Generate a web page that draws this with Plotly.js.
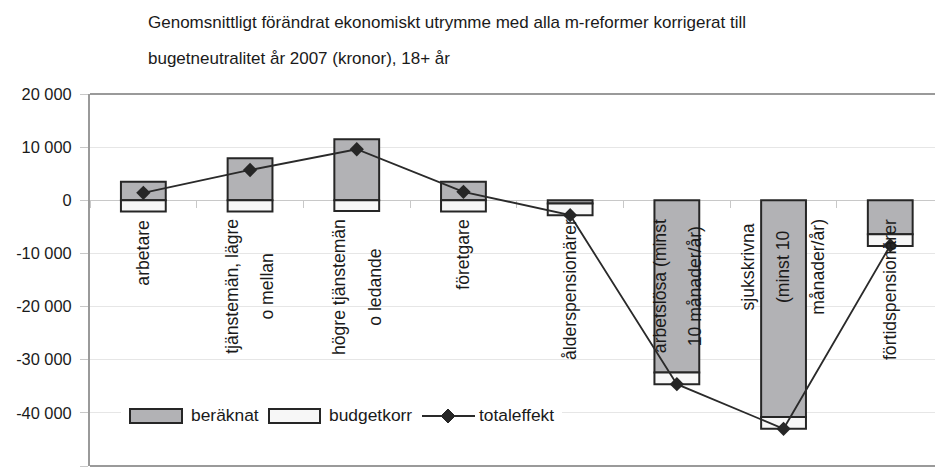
<!DOCTYPE html>
<html>
<head>
<meta charset="utf-8">
<script src="https://cdn.plot.ly/plotly-3.0.1.min.js"></script>
<style>html,body{margin:0;padding:0;background:#fff;}#chart{width:935px;height:470px;}</style>
</head>
<body>
<div id="chart"></div>
<script>
// ---- data ----
var categories = ["arbetare", "tjänstemän, lägre o mellan", "högre tjänstemän o ledande", "företgare", "ålderspensionärer", "arbetslösa (minst 10 månader/år)", "sjukskrivna (minst 10 månader/år)", "förtidspensionärer"];
var categoryLabels = ["arbetare", "tjänstemän, lägre<br>o mellan", "högre tjänstemän<br>o ledande", "företgare", "ålderspensionärer", "arbetslösa (minst<br>10 månader/år)", "sjukskrivna<br>(minst 10<br>månader/år)", "förtidspensionärer"];
var beraknat = [3500, 7900, 11500, 3500, -600, -32400, -40800, -6400];
var budgetkorr = [-2100, -2100, -2000, -2100, -2200, -2200, -2200, -2200];
var totaleffekt = [1400, 5700, 9600, 1600, -2800, -34600, -43000, -8500];
var yTickValues = [-50000, -40000, -30000, -20000, -10000, 0, 10000, 20000];
var yTickLabels = ["-50 000", "-40 000", "-30 000", "-20 000", "-10 000", "0", "10 000", "20 000"];
var seriesNames = ["beräknat", "budgetkorr", "totaleffekt"];
var titleLines = ["Genomsnittligt förändrat ekonomiskt utrymme med alla m-reformer korrigerat till", "bugetneutralitet år 2007 (kronor), 18+ år"];

// ---- style ----
var FONT = '"Liberation Sans", Arial, sans-serif';
var W = 935, H = 470, L = 90, R = 935, T = 94, B = 466;
var grayFill = '#b2b2b5', whiteFill = '#f7f7f7', edge = '#262626';
var yMin = -50000, yMax = 20000;
var zeroFrac = (0 - yMin) / (yMax - yMin);
function px(x) { return (x - L) / (R - L); }
function py(y) { return (B - y) / (B - T); }

var traces = [
  {type: 'bar', name: seriesNames[0], x: categories, y: beraknat, width: 0.42,
   marker: {color: grayFill, line: {color: edge, width: 2}}, showlegend: false, hoverinfo: 'x+y'},
  {type: 'bar', name: seriesNames[1], x: categories, y: budgetkorr, width: 0.42,
   marker: {color: whiteFill, line: {color: edge, width: 2}}, showlegend: false, hoverinfo: 'x+y'},
  {type: 'scatter', mode: 'lines+markers', name: seriesNames[2], x: categories, y: totaleffekt,
   line: {color: '#2a2a2a', width: 1.8}, marker: {symbol: 'diamond', size: 11, color: '#262626'},
   showlegend: false, hoverinfo: 'x+y'}
];

var annotations = categoryLabels.map(function (lab, i) {
  var inner = lab.split('<br>').map(function (s) { return '<span style="font-size:17.6px">' + s + '</span>'; }).join('<br>');
  return {x: categories[i], y: 0, xref: 'x', yref: 'y', text: inner, showarrow: false,
    textangle: -90, xanchor: 'center', yanchor: 'top', yshift: -17, align: 'center',
    font: {family: FONT, size: 27, color: '#1a1a1a'}};
});

// custom legend
var legY = 416, boxH = 14;
var shapes = [
  {type: 'line', xref: 'paper', yref: 'paper', x0: 0, x1: 1, y0: 1, y1: 1, line: {color: '#9a9a9a', width: 2}},
  {type: 'line', xref: 'paper', yref: 'paper', x0: 0, x1: 1, y0: 0, y1: 0, line: {color: '#9a9a9a', width: 2}},
  {type: 'rect', xref: 'paper', yref: 'paper', x0: px(121), x1: px(562), y0: py(405), y1: py(427), fillcolor: '#ffffff', line: {width: 0}, layer: 'above'},
  {type: 'rect', xref: 'paper', yref: 'paper', x0: px(130), x1: px(182), y0: py(legY - boxH / 2), y1: py(legY + boxH / 2), fillcolor: grayFill, line: {color: edge, width: 2}, layer: 'above'},
  {type: 'rect', xref: 'paper', yref: 'paper', x0: px(269), x1: px(320), y0: py(legY - boxH / 2), y1: py(legY + boxH / 2), fillcolor: whiteFill, line: {color: edge, width: 2}, layer: 'above'},
  {type: 'line', xref: 'paper', yref: 'paper', x0: px(422), x1: px(475), y0: py(legY), y1: py(legY), line: {color: '#2a2a2a', width: 1.8}, layer: 'above'},
  {type: 'path', xref: 'paper', yref: 'paper',
   path: 'M' + px(448) + ',' + py(legY - 7) + ' L' + px(455) + ',' + py(legY) + ' L' + px(448) + ',' + py(legY + 7) + ' L' + px(441) + ',' + py(legY) + ' Z',
   fillcolor: '#262626', line: {color: '#262626', width: 1}, layer: 'above'}
];
var legendTextX = [189, 327, 477];
seriesNames.forEach(function (n, i) {
  annotations.push({xref: 'paper', yref: 'paper', x: px(legendTextX[i]), y: py(legY - 1), text: n, showarrow: false,
    xanchor: 'left', yanchor: 'middle', font: {family: FONT, size: 17.4, color: '#1a1a1a'}});
});

var layout = {
  width: W, height: H,
  margin: {l: L, r: W - R, t: T, b: H - B, pad: 0},
  paper_bgcolor: '#ffffff', plot_bgcolor: '#ffffff',
  barmode: 'relative',
  showlegend: false,
  title: {text: titleLines.map(function (s) { return '<span style="font-size:17px">' + s + '</span>'; }).join('<br>'),
    x: 148 / W, xref: 'container', xanchor: 'left', y: 1 - 28 / H, yref: 'container', yanchor: 'top',
    font: {family: FONT, size: 27.5, color: '#1a1a1a'}},
  xaxis: {type: 'category', range: [-0.5, -0.5 + (R - L) / 106.7], anchor: 'free', position: zeroFrac,
    showline: true, linecolor: '#c8c8c8', linewidth: 1, layer: 'below traces',
    ticks: 'outside', tickson: 'boundaries', ticklen: 7, tickcolor: '#c8c8c8', tickwidth: 1,
    showticklabels: false, showgrid: false, zeroline: false, fixedrange: true},
  yaxis: {range: [yMin, yMax], tickvals: yTickValues, ticktext: yTickLabels,
    showline: true, linecolor: '#9a9a9a', linewidth: 2, ticks: 'outside', ticklen: 8, tickcolor: '#c8c8c8', tickwidth: 1,
    showgrid: true, gridcolor: '#e6e6e6', gridwidth: 1, zeroline: false, ticklabelstandoff: 5,
    tickfont: {family: FONT, size: 16.4, color: '#1a1a1a'}, fixedrange: true},
  shapes: shapes,
  annotations: annotations
};

Plotly.newPlot('chart', traces, layout, {displayModeBar: false, staticPlot: true});
</script>
</body>
</html>
